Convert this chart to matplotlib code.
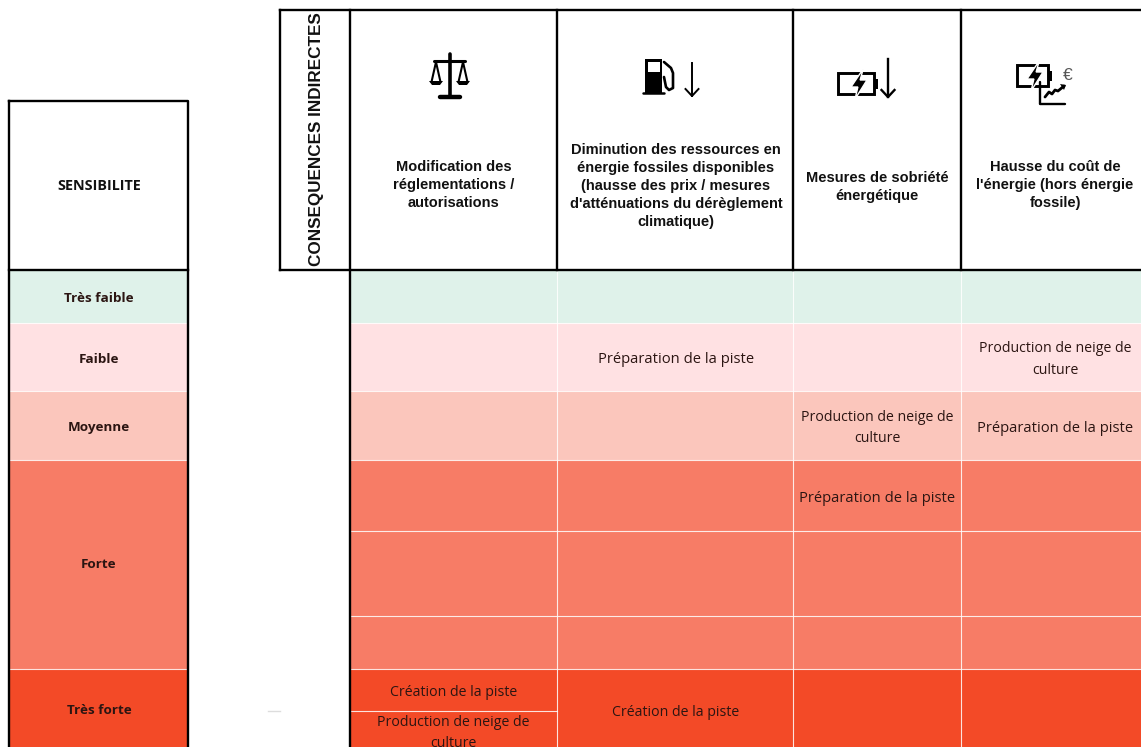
import matplotlib
matplotlib.use('Agg')
import matplotlib.pyplot as plt
from matplotlib.patches import Rectangle, Polygon

W, H = 1141, 747

# Table content
sens_labels = ["Très faible", "Faible", "Moyenne", "Forte", "Très forte"]
sens_colors = ["#dff2ea", "#ffe1e3", "#fbc6bc", "#f77c66", "#f34a27"]
headers = [
    "Modification des\nréglementations /\nautorisations",
    "Diminution des ressources en\nénergie fossiles disponibles\n(hausse des prix / mesures\nd'atténuations du dérèglement\nclimatique)",
    "Mesures de sobriété\nénergétique",
    "Hausse du coût de\nl'énergie (hors énergie\nfossile)",
]
cell_text = [
    (1, 1, "Préparation de la piste"),
    (3, 1, "Production de neige de\nculture"),
    (2, 2, "Production de neige de\nculture"),
    (3, 2, "Préparation de la piste"),
]

# Layout in pixels
col_x = [350, 557, 793, 961, 1141]
col_cx = [453.5, 676, 877, 1055]
band_y = [270, 323, 391, 460, 669, 747]
forte_lines = [531, 616]
head_cy = [185, 186, 187, 185]
sens_y = [298.5, 359.5, 427.5, 564.5, 711]

fig = plt.figure(figsize=(W / 100, H / 100), dpi=100)
ax = fig.add_axes([0, 0, 1, 1])
ax.set_xlim(0, W)
ax.set_ylim(H, 0)
ax.axis('off')

body = ['Open Sans', 'DejaVu Sans']
bold = 'Liberation Sans'
dark = '#2b1512'
sep = dict(color='white', lw=0.8, alpha=0.85, zorder=2)
cell = dict(ha='center', va='center', fontsize=10.6, family=body, color=dark,
            linespacing=1.42, zorder=5)
cell_two = dict(cell, fontsize=10.15, linespacing=1.58)

# Coloured bands, left column and main grid
for i, c in enumerate(sens_colors):
    y0, y1 = band_y[i], band_y[i + 1]
    ax.add_patch(Rectangle((9, y0), 179, y1 - y0, fc=c, ec='none', zorder=1))
    ax.add_patch(Rectangle((350, y0), W - 350, y1 - y0, fc=c, ec='none', zorder=1))
    ax.text(99, sens_y[i], sens_labels[i], ha='center', va='center',
            fontsize=9.7, fontweight='bold', family=body, color=dark, zorder=5)

# White separators
for y in band_y[1:-1] + forte_lines:
    ax.plot([350, W], [y, y], **sep)
for y in band_y[1:-1]:
    ax.plot([9, 188], [y, y], **sep)
for x in col_x[1:-1]:
    ax.plot([x, x], [270, H], **sep)
ax.plot([350, 557], [711, 711], **sep)

# Cell text
for c, r, txt in cell_text:
    style = cell_two if "\n" in txt else cell
    ax.text(col_cx[c], (band_y[r] + band_y[r + 1]) / 2 + 2.5, txt, **style)
ax.text(col_cx[2], 498, "Préparation de la piste", **cell)
ax.text(col_cx[0], 692, "Création de la piste", **cell_two)
ax.text(col_cx[0], 733, "Production de neige de\nculture", **cell_two)
ax.text(col_cx[1], 712, "Création de la piste", **cell_two)

# Black frames
lk = dict(color='black', lw=1.7, zorder=6, solid_capstyle='projecting')
ax.plot([9, 188, 188, 9, 9], [101, 101, H + 5, H + 5, 101], **lk)
ax.plot([9, 188], [270, 270], **lk)
ax.plot([280, W + 5], [10, 10], **lk)
ax.plot([280, W + 5], [270, 270], **lk)
ax.plot([280, 280], [10, 270], **lk)
ax.plot([350, 350], [10, H + 5], **lk)
for x in col_x[1:-1]:
    ax.plot([x, x], [10, 270], **lk)

# Header text
ax.text(99, 185.5, "SENSIBILITE", ha='center', va='center', fontsize=10.4,
        fontweight='bold', family=body, color='#111111', zorder=5)
ax.text(317, 139, "CONSEQUENCES INDIRECTES", rotation=90, ha='center', va='center',
        fontsize=12.3, fontweight='bold', family=bold, color='#111111', zorder=5)
for i, h in enumerate(headers):
    ax.text(col_cx[i], head_cy[i], h, ha='center', va='center', fontsize=10.55,
            fontweight='bold', family=bold, color='#111111', linespacing=1.38, zorder=5)


# Icons
def arrow(x, y0, y1, lw=1.4):
    ax.plot([x, x], [y0, y1], color='black', lw=lw, zorder=7)
    ax.plot([x - 6.5, x, x + 6.5], [y1 - 7, y1, y1 - 7], color='black', lw=lw, zorder=7)


def battery(x, y, w, h, bolt_x, bolt_w):
    ax.add_patch(Rectangle((x, y), w, h, fc='white', ec='black', lw=2.1, zorder=7))
    ax.add_patch(Rectangle((x + w, y + h / 2 - 5), 4, 10, fc='black', ec='none', zorder=7))
    top, bot = y - 4, y + h + 5
    mid = (top + bot) / 2
    ax.add_patch(Polygon([(bolt_x + bolt_w * .8, top), (bolt_x - 1, mid + 3), (bolt_x + bolt_w * .42, mid + 3),
                          (bolt_x + bolt_w * .22, bot), (bolt_x + bolt_w + 1, mid - 4), (bolt_x + bolt_w * .58, mid - 4)],
                         fc='black', ec='white', lw=1, zorder=8))


# scales
ic = dict(color='black', zorder=7, solid_capstyle='round')
ax.plot([449.5, 449.5], [54, 95], lw=2.6, **ic)
ax.plot([434, 465], [61, 61], lw=2.2, **ic)
ax.plot([440, 460], [96.5, 96.5], lw=3.2, **ic)
for sx in (436, 463):
    ax.plot([sx - 4.5, sx, sx + 4.5], [82, 62, 82], lw=1.5, **ic)
    ax.add_patch(Polygon([(sx - 7, 81), (sx + 7, 81), (sx + 4, 85), (sx - 4, 85)], fc='black', ec='none', zorder=7))

# fuel pump
ax.add_patch(Rectangle((645, 59), 17, 34, fc='black', ec='none', zorder=7))
ax.add_patch(Rectangle((647.5, 61.5), 12, 10, fc='white', ec='none', zorder=8))
ax.plot([643, 664], [93, 93], lw=1.8, **ic)
ax.plot([664, 671, 673, 673, 669, 666, 664], [62, 68, 73, 88, 90, 87, 77], lw=1.9, **ic)
arrow(692, 63, 96)

# battery down
battery(838, 73, 36, 21, 852, 14)
arrow(888, 59, 97, lw=1.7)

# battery with rising cost
battery(1017, 65, 31, 21, 1028, 14)
ax.plot([1040, 1040, 1065], [82, 104, 104], lw=1.7, **ic)
ax.plot([1045, 1049, 1052, 1055, 1058, 1064], [97, 92, 94, 90, 91, 86], lw=2, **ic)
ax.add_patch(Polygon([(1060, 84), (1066, 85), (1064, 90)], fc='black', ec='none', zorder=7))
ax.text(1068, 76, "€", ha='center', va='center', fontsize=12.5, family='Liberation Sans',
        color='#555555', zorder=7)

# stray dash left of the grid
ax.plot([268, 280], [711, 711], color='#dddddd', lw=1, zorder=1)

fig.savefig('out.png', dpi=100)
